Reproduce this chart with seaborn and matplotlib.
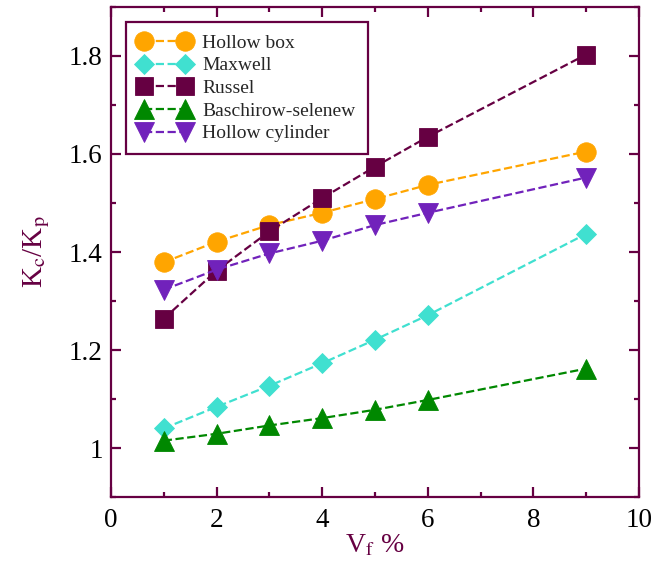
import numpy as np
import pandas as pd
import matplotlib
matplotlib.use('Agg')
import matplotlib.pyplot as plt
from matplotlib.ticker import MultipleLocator
import seaborn as sns

# data
vf = [1, 2, 3, 4, 5, 6, 9]
hollow_box = [1.379, 1.421, 1.455, 1.480, 1.508, 1.537, 1.605]
maxwell = [1.040, 1.084, 1.127, 1.173, 1.221, 1.271, 1.437]
russel = [1.264, 1.362, 1.442, 1.510, 1.574, 1.635, 1.803]
baschirow = [1.015, 1.029, 1.046, 1.061, 1.078, 1.098, 1.162]
hollow_cyl = [1.323, 1.364, 1.397, 1.423, 1.455, 1.480, 1.552]

labels = ['Hollow box', 'Maxwell', 'Russel', 'Baschirow-selenew', 'Hollow cylinder']
colors = ['#FFA500', '#40E0D0', '#660042', '#008800', '#7122BB']
markers = ['o', 'D', 's', '^', 'v']
msizes = [14, 10.5, 13.5, 14.5, 14.5]
series = [hollow_box, maxwell, russel, baschirow, hollow_cyl]

frame = '#660042'

sns.set_style('ticks')
plt.rcParams['font.family'] = ['Liberation Serif', 'DejaVu Serif']
plt.rcParams['mathtext.fontset'] = 'stix'

fig = plt.figure(figsize=(6.59, 5.74), dpi=100)
ax = fig.add_axes([111/659, 77/574, 528/659, 490/574])

for lab, col, mk, ms, ys in zip(labels, colors, markers, msizes, series):
    df = pd.DataFrame({'vf': vf, 'k': ys})
    sns.lineplot(data=df, x='vf', y='k', ax=ax, color=col, marker=mk,
                 markersize=ms, markeredgecolor=col, markeredgewidth=0.6,
                 linewidth=1.6, linestyle='--', dashes=(3.5, 2.6), label=lab)

ax.set_xlim(0, 10)
ax.set_ylim(0.9, 1.9)
ax.xaxis.set_major_locator(MultipleLocator(2))
ax.xaxis.set_minor_locator(MultipleLocator(1))
ax.yaxis.set_major_locator(MultipleLocator(0.2))
ax.yaxis.set_minor_locator(MultipleLocator(0.1))
ax.set_yticks([1.0, 1.2, 1.4, 1.6, 1.8])
ax.set_yticklabels(['1', '1.2', '1.4', '1.6', '1.8'])

for sp in ax.spines.values():
    sp.set_color(frame)
    sp.set_linewidth(1.6)
ax.tick_params(which='both', direction='in', top=True, right=True,
               color=frame, width=1.6, labelsize=19.5, labelcolor='black')
ax.tick_params(which='major', length=7)
ax.tick_params(which='minor', length=3.5)
ax.tick_params(axis='x', pad=8)
ax.tick_params(axis='y', pad=6)

ax.set_xlabel('V$_\\mathrm{f}$ %', fontsize=20, color=frame, labelpad=0)
ax.set_ylabel('K$_\\mathrm{c}$/K$_\\mathrm{p}$', fontsize=21, color=frame, labelpad=12)

leg = ax.legend(loc='upper left', bbox_to_anchor=(15/528, 1 - 15/490),
                borderaxespad=0, numpoints=2, handlelength=2.7,
                fontsize=14, labelspacing=0.26, fancybox=False,
                framealpha=1, handletextpad=0.6, borderpad=0.62)
leg.get_frame().set_edgecolor(frame)
leg.get_frame().set_linewidth(1.6)

fig.savefig('out.png', dpi=100)
